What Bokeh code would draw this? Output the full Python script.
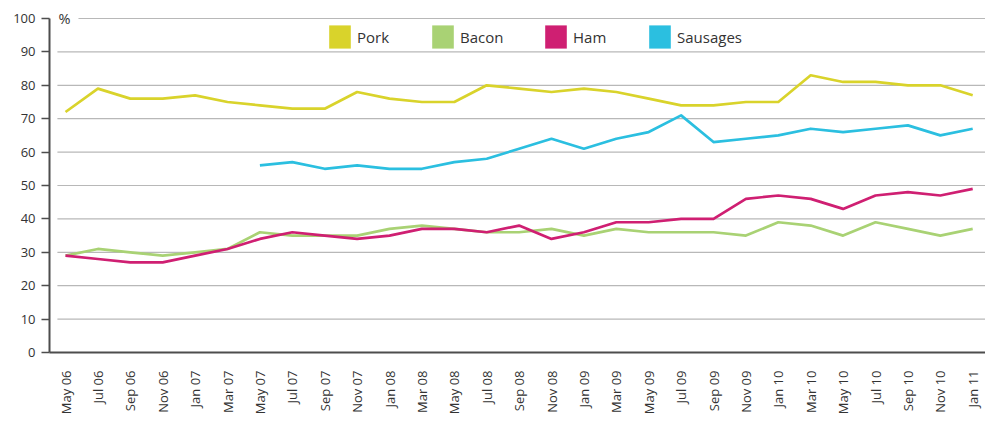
import numpy as np
from bokeh.plotting import figure
from bokeh.models import Range1d, Legend, LegendItem, Label, FixedTicker
from bokeh.embed import file_html
from bokeh.resources import INLINE

months = ["May 06", "Jul 06", "Sep 06", "Nov 06", "Jan 07", "Mar 07", "May 07", "Jul 07",
          "Sep 07", "Nov 07", "Jan 08", "Mar 08", "May 08", "Jul 08", "Sep 08", "Nov 08",
          "Jan 09", "Mar 09", "May 09", "Jul 09", "Sep 09", "Nov 09", "Jan 10", "Mar 10",
          "May 10", "Jul 10", "Sep 10", "Nov 10", "Jan 11"]
pork = [72, 79, 76, 76, 77, 75, 74, 73, 73, 78, 76, 75, 75, 80, 79, 78, 79, 78, 76, 74,
        74, 75, 75, 83, 81, 81, 80, 80, 77]
bacon = [29, 31, 30, 29, 30, 31, 36, 35, 35, 35, 37, 38, 37, 36, 36, 37, 35, 37, 36, 36,
         36, 35, 39, 38, 35, 39, 37, 35, 37]
ham = [29, 28, 27, 27, 29, 31, 34, 36, 35, 34, 35, 37, 37, 36, 38, 34, 36, 39, 39, 40,
       40, 46, 47, 46, 43, 47, 48, 47, 49]
sausages = [None, None, None, None, None, None, 56, 57, 55, 56, 55, 55, 57, 58, 61, 64,
            61, 64, 66, 71, 63, 64, 65, 67, 66, 67, 68, 65, 67]

series_names = ["Pork", "Bacon", "Ham", "Sausages"]
series_colors = ["#d9d32b", "#a9d274", "#cf1f72", "#2bbfe0"]
y_ticks = [0, 10, 20, 30, 40, 50, 60, 70, 80, 90, 100]

FONT = "Open Sans"
TEXT = "#333333"
AXIS = "#4d4d4d"
GRID = "#b8b8b8"

x = np.arange(len(months))

p = figure(width=985, height=422, output_backend="svg", toolbar_location=None,
           x_range=Range1d(-0.494, 28.395), y_range=Range1d(0, 105.39),
           min_border_left=49, min_border_right=0, min_border_top=0, min_border_bottom=70)
p.outline_line_color = None
p.xgrid.visible = False
p.ygrid.visible = False
p.background_fill_color = "white"
p.border_fill_color = "white"

# horizontal gridlines starting a little right of the y axis
# (the top one leaves room for the "%" unit label)
for t in y_ticks[1:]:
    gx0 = 0.40 if t == y_ticks[-1] else -0.25
    p.segment(x0=[gx0], y0=[t], x1=[p.x_range.end], y1=[t], line_color=GRID, line_width=1.2,
              level="underlay")

data = [pork, bacon, ham, sausages]
for name, col, vals in zip(series_names, series_colors, data):
    y = np.array([np.nan if v is None else v for v in vals], dtype=float)
    p.line(x=x, y=y, line_color=col, line_width=2.7, line_join="round")

# y axis
ya = p.yaxis[0]
ya.ticker = FixedTicker(ticks=y_ticks)
ya.bounds = (y_ticks[0], y_ticks[-1])
ya.major_tick_out = 8
ya.major_tick_in = 0
ya.minor_tick_line_color = None
ya.axis_line_width = 2
ya.axis_line_color = AXIS
ya.major_tick_line_color = AXIS
ya.major_tick_line_width = 1.5
ya.major_label_standoff = 6
ya.major_label_text_font = FONT
ya.major_label_text_font_size = "13px"
ya.major_label_text_color = TEXT

# x axis
xa = p.xaxis[0]
xa.ticker = FixedTicker(ticks=list(x))
xa.major_label_overrides = {int(i): m for i, m in zip(x, months)}
xa.major_label_orientation = np.pi / 2
xa.major_tick_out = 0
xa.major_tick_in = 0
xa.minor_tick_line_color = None
xa.axis_line_width = 2
xa.axis_line_color = AXIS
xa.major_label_standoff = 18
xa.major_label_text_font = FONT
xa.major_label_text_font_size = "13px"
xa.major_label_text_color = TEXT

# unit label
p.add_layout(Label(x=9, y=100, x_units="screen", y_units="data", text="%",
                   text_font=FONT, text_font_size="14.5px", text_color=TEXT,
                   text_baseline="alphabetic", text_align="left"))

# legend: one small legend per series so each swatch sits where it should
legend_x = [277, 380, 493, 597]
for name, col, lx in zip(series_names, series_colors, legend_x):
    r = p.quad(left=[np.nan], right=[np.nan], top=[np.nan], bottom=[np.nan],
               fill_color=col, line_color=None)
    leg = Legend(items=[LegendItem(label=name, renderers=[r])], location=(lx, 301),
                 orientation="horizontal", glyph_width=27, glyph_height=29,
                 label_standoff=4, padding=0, margin=0, border_line_color=None,
                 background_fill_alpha=0, label_text_font=FONT,
                 label_text_font_size="15px", label_text_color=TEXT)
    p.add_layout(leg)

open("out.html", "w").write(file_html(p, INLINE))
